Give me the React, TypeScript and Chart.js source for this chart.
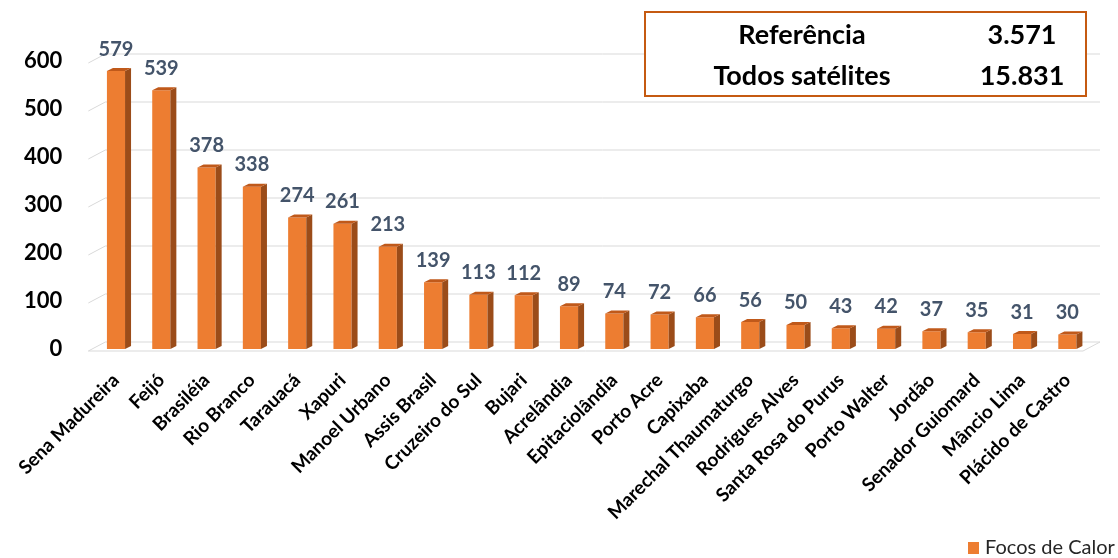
import React, { useEffect, useRef } from "react";
import { Chart, registerables } from "chart.js";

Chart.register(...registerables);

const categories = [
  "Sena Madureira", "Feijó", "Brasiléia", "Rio Branco", "Tarauacá", "Xapuri",
  "Manoel Urbano", "Assis Brasil", "Cruzeiro do Sul", "Bujari", "Acrelândia",
  "Epitaciolândia", "Porto Acre", "Capixaba", "Marechal Thaumaturgo",
  "Rodrigues Alves", "Santa Rosa do Purus", "Porto Walter", "Jordão",
  "Senador Guiomard", "Mâncio Lima", "Plácido de Castro",
];
const focosDeCalor = [579, 539, 378, 338, 274, 261, 213, 139, 113, 112, 89, 74, 72, 66, 56, 50, 43, 42, 37, 35, 31, 30];
const yTicks = [0, 100, 200, 300, 400, 500, 600];
const tableRows = [
  ["Referência", "3.571"],
  ["Todos satélites", "15.831"],
];
const seriesName = "Focos de Calor";

const FONT = "Lato, 'Open Sans', sans-serif";

const threeD = {
  id: "threeD",
  beforeDatasetsDraw(chart: any) {
    const { ctx, chartArea, scales } = chart;
    const ys = scales.y;
    const xf = chartArea.left - 5;
    const xb = chartArea.left + 12;
    const xr = chartArea.right + 10;
    ctx.save();
    ctx.strokeStyle = "#d9d9d9";
    ctx.lineWidth = 1;
    for (const v of yTicks) {
      const yF = ys.getPixelForValue(v) + 2;
      ctx.beginPath();
      ctx.moveTo(xf, yF);
      ctx.lineTo(xb, yF - 9);
      ctx.lineTo(xr, yF - 9);
      ctx.stroke();
    }
    const y0 = ys.getPixelForValue(0) + 2;
    ctx.beginPath();
    ctx.moveTo(xf, y0);
    ctx.lineTo(xr - 17, y0);
    ctx.lineTo(xr, y0 - 9);
    ctx.stroke();
    ctx.restore();
  },
  afterDatasetsDraw(chart: any) {
    const { ctx } = chart;
    const meta = chart.getDatasetMeta(0);
    const dx = 6, dy = 3;
    ctx.save();
    meta.data.forEach((bar: any, i: number) => {
      const w = bar.width;
      const l = bar.x - w / 2;
      const r = bar.x + w / 2;
      const t = bar.y;
      const b = bar.base;
      ctx.fillStyle = "#9b4c19";
      ctx.beginPath();
      ctx.moveTo(r, t);
      ctx.lineTo(r + dx, t - dy);
      ctx.lineTo(r + dx, b - dy);
      ctx.lineTo(r, b);
      ctx.closePath();
      ctx.fill();
      ctx.fillStyle = "#c0591a";
      ctx.beginPath();
      ctx.moveTo(l, t);
      ctx.lineTo(l + dx, t - dy);
      ctx.lineTo(r + dx, t - dy);
      ctx.lineTo(r, t);
      ctx.closePath();
      ctx.fill();
      ctx.fillStyle = "#44546A";
      ctx.font = `bold 20px ${FONT}`;
      ctx.textAlign = "center";
      ctx.textBaseline = "middle";
      ctx.fillText(String(focosDeCalor[i]), bar.x, t - 22);
    });
    ctx.restore();
  },
  afterDraw(chart: any) {
    const { ctx } = chart;
    ctx.save();
    ctx.fillStyle = "#ffffff";
    ctx.fillRect(645, 12, 441, 84);
    ctx.strokeStyle = "#C55A11";
    ctx.lineWidth = 2;
    ctx.strokeRect(645, 12, 441, 84);
    ctx.fillStyle = "#000000";
    ctx.font = `bold 27px ${FONT}`;
    ctx.textBaseline = "middle";
    ctx.textAlign = "center";
    const rowY = [35, 76];
    tableRows.forEach((row, i) => {
      ctx.fillText(row[0], 802, rowY[i]);
      ctx.fillText(row[1], 1022, rowY[i]);
    });
    ctx.fillStyle = "#ED7D31";
    ctx.fillRect(968, 542, 11, 12);
    ctx.fillStyle = "#262626";
    ctx.font = `20px ${FONT}`;
    ctx.textAlign = "left";
    ctx.fillText(seriesName, 985, 548);
    ctx.restore();
  },
};

export default function App() {
  const ref = useRef<HTMLCanvasElement>(null);
  useEffect(() => {
    document.body.style.margin = "0";
    const chart = new Chart(ref.current!, {
      type: "bar",
      data: {
        labels: categories,
        datasets: [
          {
            label: seriesName,
            data: focosDeCalor,
            backgroundColor: "#ED7D31",
            categoryPercentage: 1,
            barPercentage: 0.4,
          },
        ],
      },
      options: {
        animation: false,
        responsive: false,
        layout: { padding: { top: 61, right: 28, left: 0, bottom: 0 } },
        plugins: { legend: { display: false }, tooltip: { enabled: false } },
        scales: {
          x: {
            grid: { display: false, drawTicks: false },
            border: { display: false },
            ticks: {
              autoSkip: false,
              maxRotation: 45,
              minRotation: 45,
              padding: 20,
              color: "#000",
              font: { family: FONT, size: 19, weight: "bold" },
            },
            afterFit: (s: any) => { s.height = 209; },
          },
          y: {
            min: 0,
            max: 600,
            grid: { display: false, drawTicks: false },
            border: { display: false },
            ticks: {
              stepSize: 100,
              padding: 31,
              color: "#000",
              font: { family: FONT, size: 22, weight: "bold" },
            },
            afterFit: (s: any) => { s.width = 93; },
          },
        },
      },
      plugins: [threeD],
    } as any);
    return () => chart.destroy();
  }, []);
  return <canvas ref={ref} width={1118} height={558} style={{ display: "block" }} />;
}
